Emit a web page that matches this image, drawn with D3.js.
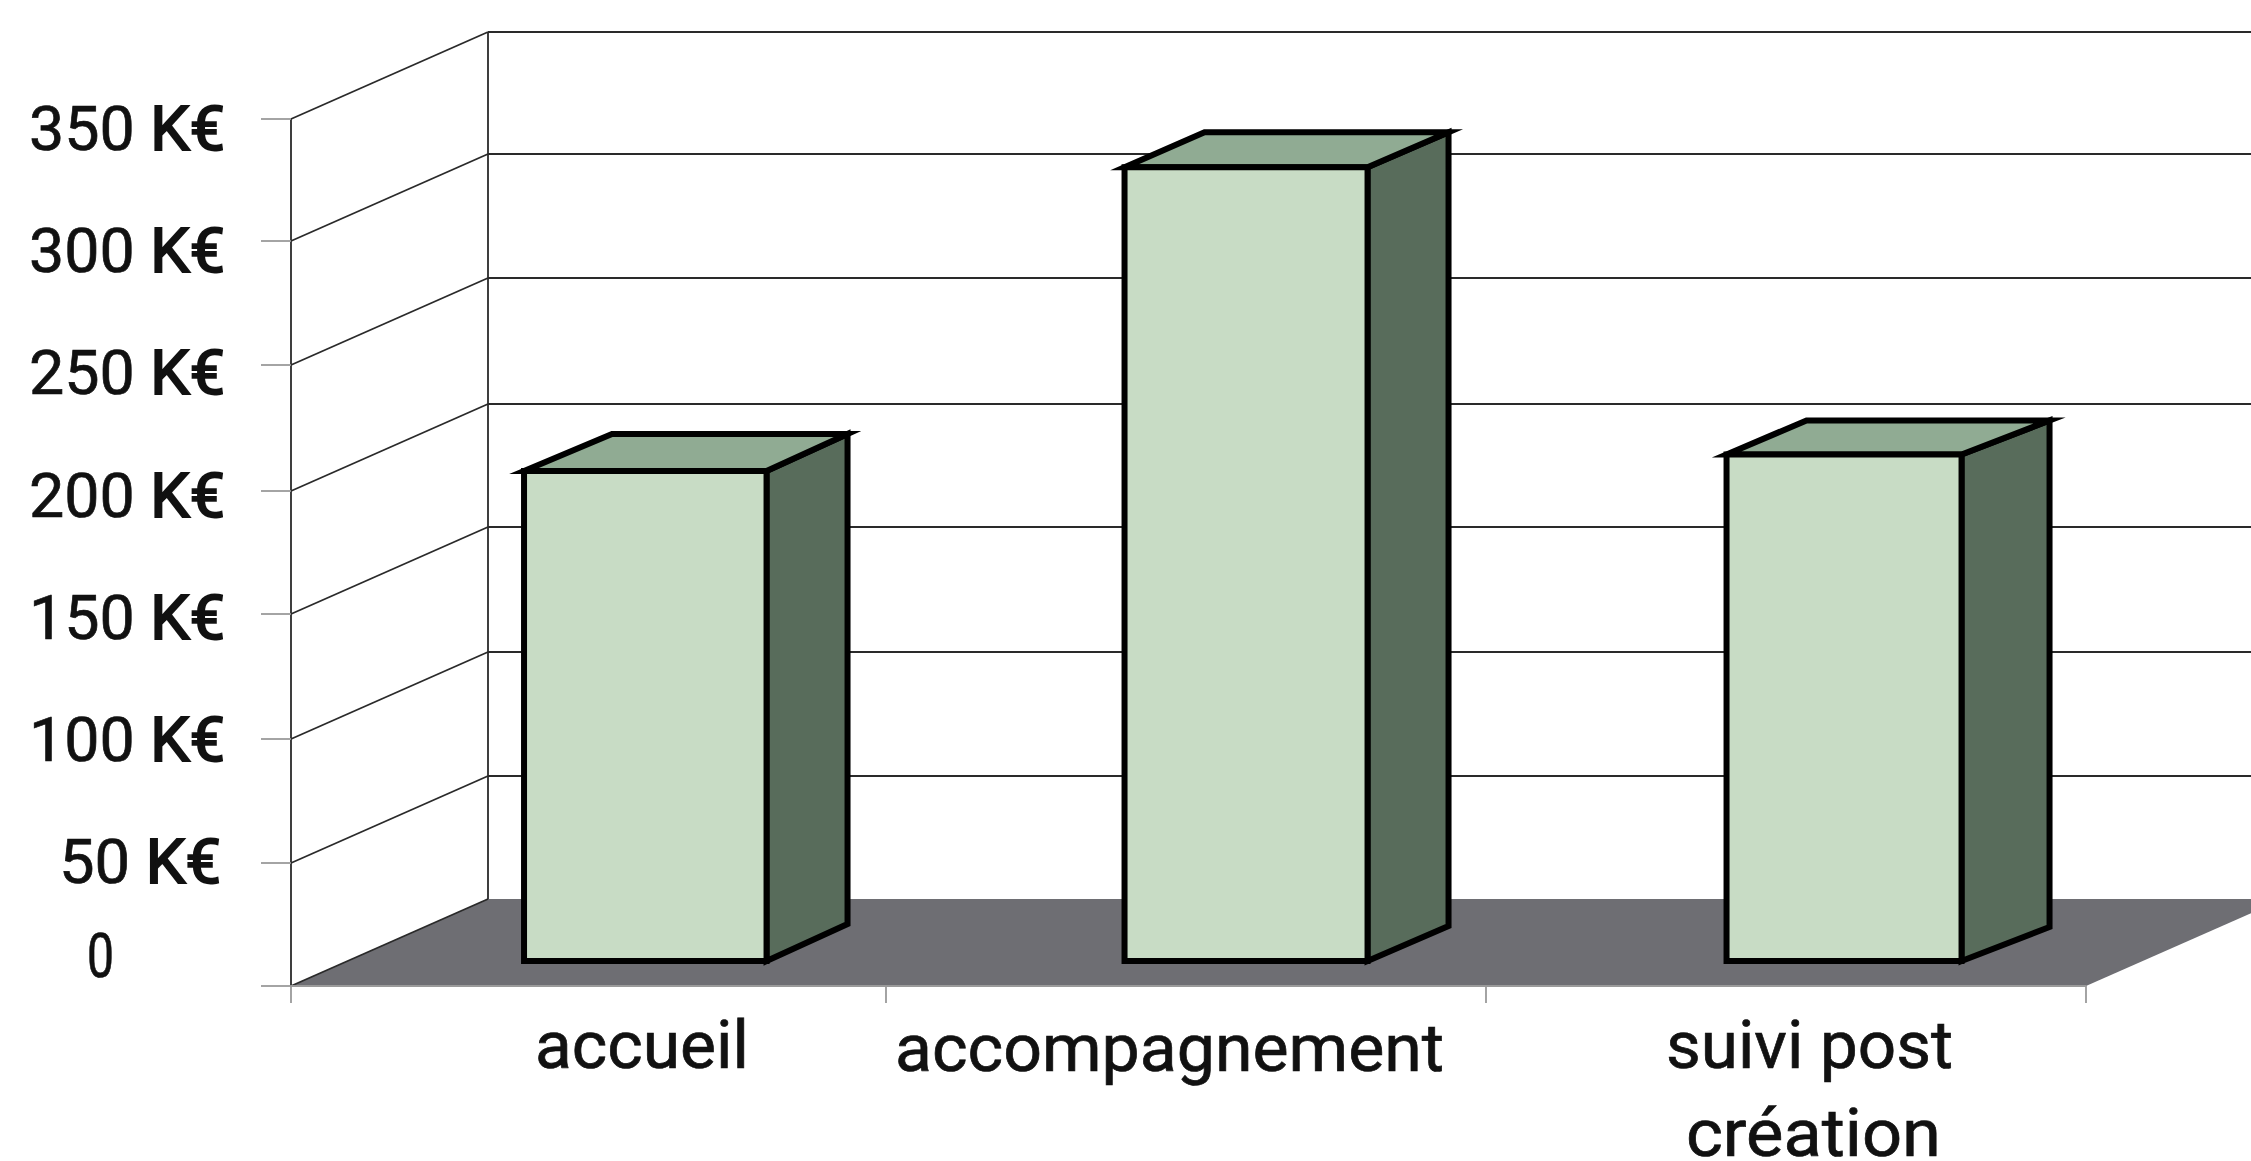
<!DOCTYPE html>
<html><head><meta charset="utf-8">
<script src="https://cdnjs.cloudflare.com/ajax/libs/d3/7.8.5/d3.min.js"></script>
<style>html,body{margin:0;padding:0;background:#fff}svg{display:block;filter:blur(0.6px)}text{font-family:Roboto,sans-serif;fill:#111;stroke:#111;stroke-width:0.7px}tspan.u{stroke-width:2px}</style>
</head><body><svg id="c" width="2251" height="1161"></svg>
<script>
const categories = ["accueil", "accompagnement", "suivi post création"];
const values = [198, 320, 204.6];
const yTicks = [0, 50, 100, 150, 200, 250, 300, 350];
const yTickLabels = ["0", "50 K€", "100 K€", "150 K€", "200 K€", "250 K€", "300 K€", "350 K€"];

// ---- layout (measured pixel geometry, kept apart from the data) ----
const W = 2251, H = 1161;
const yRange = [986, 863, 739, 614, 491, 365, 241, 119];
const xEdges = [291, 886, 1486, 2086];
const depthX = 197, depthY = 87;
const barFront = 0.287;
const barWidth = 243;
const barLeftAdj = [0.5, 3.5, 5.5], barRightAdj = [0, 3.5, -2.5];
const barDepthL = [88, 80, 80], barDepthR = [81, 81, 88], barDepthY = [37, 35, 34];
const labelBaseline = d3.scaleLinear().domain([50, 350]).range([883, 150]);
const yLabelBox = [[87,27,977],[59,162],[29,196]];
const catLabels = [
  {t:"accueil", x:535, w:214, y:1068},
  {t:"accompagnement", x:895, w:549, y:1071},
  {t:"suivi post", x:1666, w:287, y:1068},
  {t:"création", x:1686, w:255, y:1156}
];
const colors = {floor:"#6e6e73", front:"#c8dcc5", top:"#90ab93", side:"#586c5b", ink:"#000", grid:"#2a2a2a", tick:"#9a9a9a"};

const svg = d3.select("#c");
const xEdge = d3.scaleLinear().domain(d3.range(xEdges.length)).range(xEdges);
const y = d3.scaleLinear().domain(yTicks).range(yRange);
const y0 = y(0), axisX = xEdge(0), axisRight = xEdge(3);
const pts = a => a.map(p => p.join(",")).join(" ");

// floor
svg.append("polygon").attr("points", pts([[axisX,y0],[axisX+depthX,y0-depthY],[axisRight+depthX,y0-depthY],[axisRight,y0]])).attr("fill", colors.floor);

// gridlines: side wall and back wall
const g = svg.append("g").attr("fill","none").attr("stroke",colors.grid).attr("stroke-width",1.8);
yTicks.forEach(t => {
  g.append("line").attr("x1",axisX).attr("y1",y(t)).attr("x2",axisX+depthX).attr("y2",y(t)-depthY);
  if (t>0) g.append("line").attr("x1",axisX+depthX).attr("y1",y(t)-depthY).attr("x2",W).attr("y2",y(t)-depthY);
});
g.append("line").attr("x1",axisX).attr("y1",y(350)).attr("x2",axisX).attr("y2",y0);
g.append("line").attr("x1",axisX+depthX).attr("y1",y(350)-depthY).attr("x2",axisX+depthX).attr("y2",y0-depthY);

// ticks
const tk = svg.append("g").attr("stroke",colors.tick).attr("stroke-width",1.8);
yTicks.forEach(t => tk.append("line").attr("x1",axisX-30).attr("y1",y(t)).attr("x2",axisX).attr("y2",y(t)));
d3.range(xEdges.length).forEach(i => {
  tk.append("line").attr("x1",xEdge(i)).attr("y1",y0).attr("x2",xEdge(i)).attr("y2",y0+17);
});
tk.append("line").attr("x1",axisX).attr("x2",axisRight).attr("y1",y0).attr("y2",y0);

// y labels
const yl = svg.append("g").attr("font-size",61);
yTicks.forEach((t,i) => {
  const box = i===0 ? yLabelBox[0] : i===1 ? yLabelBox[1] : yLabelBox[2];
  const el = yl.append("text").attr("x",box[0]).attr("y", i===0 ? box[2] : labelBaseline(t))
    .attr("textLength",box[1]).attr("lengthAdjust","spacingAndGlyphs");
  const parts = yTickLabels[i].split(" ");
  if (parts.length === 2) {
    el.append("tspan").text(parts[0] + " ");
    el.append("tspan").attr("class","u").text(parts[1]);
  } else el.text(parts[0]);
});

// bars
const bars = svg.append("g").attr("stroke",colors.ink).attr("stroke-width",6).attr("stroke-linejoin","miter").attr("stroke-miterlimit",10);
categories.forEach((c,i) => {
  const cx = (xEdge(i)+xEdge(i+1))/2;
  const L = cx - barWidth/2 + depthX*barFront + barLeftAdj[i];
  const R = cx + barWidth/2 + depthX*barFront + barRightAdj[i];
  const B = y0 - depthY*barFront;
  const T = y(values[i]) - depthY*barFront;
  const dxL = barDepthL[i], dxR = barDepthR[i], dy = barDepthY[i];
  const b = bars.append("g");
  b.append("polygon").attr("fill",colors.side).attr("points",pts([[R,B],[R+dxR,B-dy],[R+dxR,T-dy],[R,T]]));
  b.append("polygon").attr("fill",colors.top).attr("points",pts([[L,T],[L+dxL,T-dy],[R+dxR,T-dy],[R,T]]));
  b.append("polygon").attr("fill",colors.front).attr("points",pts([[L,B],[R,B],[R,T],[L,T]]));
});

// category labels
svg.append("g").attr("font-size",66).selectAll("text").data(catLabels).join("text")
  .attr("x",d=>d.x).attr("y",d=>d.y)
  .attr("textLength",d=>d.w).attr("lengthAdjust","spacingAndGlyphs")
  .text(d=>d.t);
</script></body></html>
